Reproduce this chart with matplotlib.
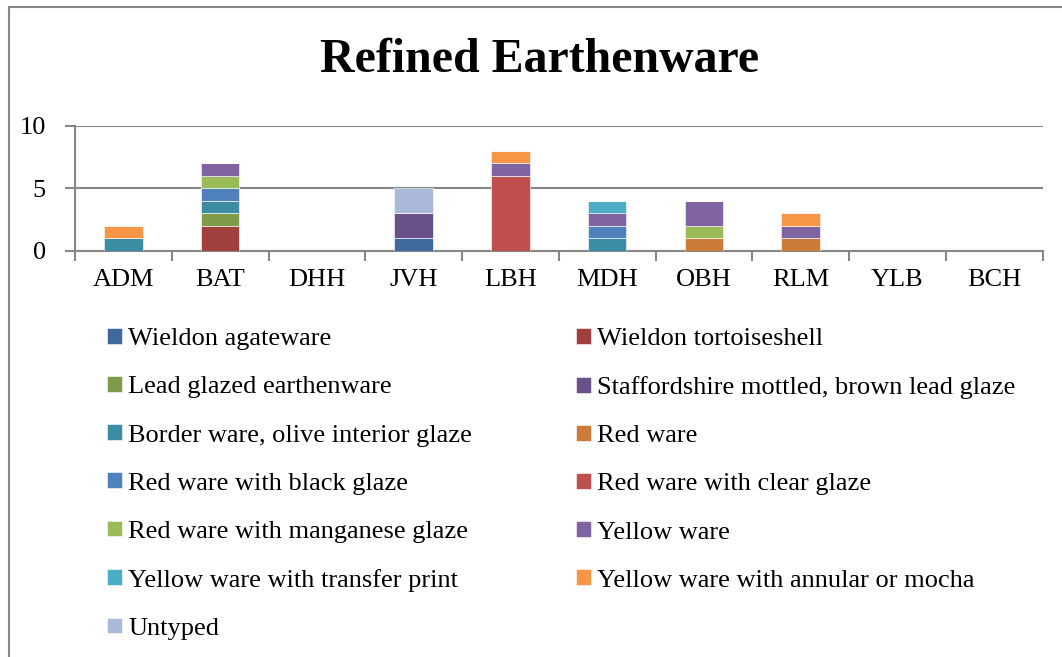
import matplotlib.pyplot as plt
import numpy as np

plt.rcParams['font.family'] = ['Liberation Serif', 'DejaVu Serif']

sites = ["ADM", "BAT", "DHH", "JVH", "LBH", "MDH", "OBH", "RLM", "YLB", "BCH"]

wieldon_agate = [0, 0, 0, 1, 0, 0, 0, 0, 0, 0]
wieldon_tortoise = [0, 2, 0, 0, 0, 0, 0, 0, 0, 0]
lead_glazed = [0, 1, 0, 0, 0, 0, 0, 0, 0, 0]
staffs_mottled = [0, 0, 0, 2, 0, 0, 0, 0, 0, 0]
border_ware = [1, 1, 0, 0, 0, 1, 0, 0, 0, 0]
red_ware = [0, 0, 0, 0, 0, 0, 1, 1, 0, 0]
red_black = [0, 1, 0, 0, 0, 1, 0, 0, 0, 0]
red_clear = [0, 0, 0, 0, 6, 0, 0, 0, 0, 0]
red_manganese = [0, 1, 0, 0, 0, 0, 1, 0, 0, 0]
yellow_ware = [0, 1, 0, 0, 1, 1, 2, 1, 0, 0]
yellow_transfer = [0, 0, 0, 0, 0, 1, 0, 0, 0, 0]
yellow_annular = [1, 0, 0, 0, 1, 0, 0, 1, 0, 0]
untyped = [0, 0, 0, 2, 0, 0, 0, 0, 0, 0]

series = [
    ("Wieldon agateware", wieldon_agate, "#3F699D"),
    ("Wieldon tortoiseshell", wieldon_tortoise, "#A0403E"),
    ("Lead glazed earthenware", lead_glazed, "#7F9A48"),
    ("Staffordshire mottled, brown lead glaze", staffs_mottled, "#69518A"),
    ("Border ware, olive interior glaze", border_ware, "#3C8DA3"),
    ("Red ware", red_ware, "#CC7B38"),
    ("Red ware with black glaze", red_black, "#4F81BD"),
    ("Red ware with clear glaze", red_clear, "#C0504D"),
    ("Red ware with manganese glaze", red_manganese, "#9BBB59"),
    ("Yellow ware", yellow_ware, "#8064A2"),
    ("Yellow ware with transfer print", yellow_transfer, "#4BACC6"),
    ("Yellow ware with annular or mocha", yellow_annular, "#F79646"),
    ("Untyped", untyped, "#AAB9D8"),
]

W, H = 1062, 657
fig = plt.figure(figsize=(W / 100, H / 100), dpi=100)
ax = fig.add_axes([75 / W, 1 - 251 / H, (1042.5 - 75) / W, 125 / H])

x = np.arange(len(sites))
bottom = np.zeros(len(sites))
handles = []
for name, vals, col in series:
    vals = np.array(vals, dtype=float)
    b = ax.bar(x, vals, 0.4, bottom=bottom, color=col, edgecolor='white',
               linewidth=0.4, label=name, zorder=3)
    handles.append(b)
    bottom += vals

grey = "#878787"
ax.set_xlim(-0.5, len(sites) - 0.5)
ax.set_ylim(0, 10)
ax.set_yticks([0, 5, 10])
ax.yaxis.grid(True, color=grey, linewidth=1.5, zorder=0)
for s in ["top", "right"]:
    ax.spines[s].set_visible(False)
for s in ["left", "bottom"]:
    ax.spines[s].set_color(grey)
    ax.spines[s].set_linewidth(1.5)
ax.tick_params(axis='y', length=7, width=1.5, color=grey, labelsize=19, pad=14)
ax.set_xticks(x)
ax.set_xticklabels(sites)
ax.set_xticks(np.arange(-0.5, len(sites)), minor=True)
ax.tick_params(axis='x', which='major', length=0, labelsize=19, pad=13)
ax.tick_params(axis='x', which='minor', length=7, width=1.5, color=grey)

fig.text(540 / W, 1 - 60 / H, "Refined Earthenware", ha='center', va='center',
         fontsize=34.5, fontweight='bold')

# outer frame (left and top edges)
fig.add_artist(plt.Line2D([9 / W, 9 / W], [0, 1 - 7 / H], color=grey, linewidth=1.5))
fig.add_artist(plt.Line2D([9 / W, 1], [1 - 7 / H, 1 - 7 / H], color=grey, linewidth=1.5))

order = [0, 2, 4, 6, 8, 10, 12, 1, 3, 5, 7, 9, 11]
fig.legend([handles[i] for i in order], [series[i][0] for i in order],
           loc='upper left', bbox_to_anchor=(107 / W, 1 - 328 / H), ncol=2,
           frameon=False, fontsize=19, handlelength=0.55, handleheight=0.55,
           handletextpad=0.25, labelspacing=0.98, columnspacing=3.95,
           borderpad=0, borderaxespad=0)

fig.savefig("out.png", dpi=100)
